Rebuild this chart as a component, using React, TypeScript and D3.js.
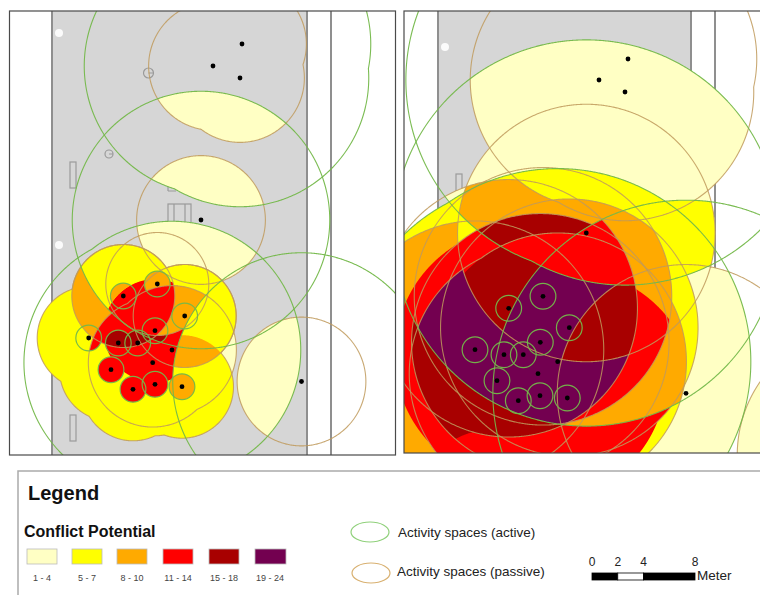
import React from "react";
import * as d3 from "d3";

// Person locations (map units = reference pixels)
const leftTrio = [[242, 44], [213, 66], [240, 78]];
const leftSoloA = [[201, 220]];
const leftSoloB = [[301.5, 381.5]];
const leftPair = [[172, 350], [152.7, 362.7]];
const leftRingNames = ["a", "b", "c", "d", "e", "f", "g", "h", "i", "j", "k"];
const leftRings = [[88.7, 338], [123.3, 296], [157.3, 284], [184.7, 316], [155, 330.7], [118.3, 343], [137.7, 343], [111, 369.7], [133, 389.3], [155, 384.3], [182, 386.7]];

const rightTrio = [[628, 59], [599, 80], [625, 92]];
const rightSoloA = [[586.3, 233]];
const rightSoloB = [[686, 393.3]];
const rightOffMap = [[866, 455]];
const rightPair = [[557.7, 361.7], [538, 373.7]];
const rightRingNames = ["a", "b", "c", "d", "e", "f", "g", "h", "i", "j", "k"];
const rightRings = [[508.7, 308.3], [543, 296.3], [569.3, 327.7], [540.3, 342.3], [475, 349.7], [504, 354.7], [523.3, 354.7], [497, 380.7], [518.3, 400.7], [540, 395.7], [567.3, 398]];
const trimPoint = [[490, 500]];

// Buffer radii in metres
const ringMetres = 1;
const leftRingPassive = 4;
const leftPassive = 5;
const leftActive = 10;
const rightPassive = 10;
const rightActive = 15;

// Legend
const classLabels = ["1 - 4", "5 - 7", "8 - 10", "11 - 14", "15 - 18", "19 - 24"];
const classColors = ["#ffffc4", "#ffff00", "#ffaa00", "#ff0000", "#a80000", "#730050"];
const scaleTicks = [0, 2, 4, 8];
const [LIGHT, YELLOW, ORANGE, RED, DARK, PURPLE] = classColors;

const GREEN = "#74b84a";
const TAN = "#c09a5c";

const metres = d3.scaleLinear().domain([0, 8]).range([0, 103]);

type Buffers = Record<string, { pts: number[][]; m: number }>;

function makeSpace(x0: number, y0: number, x1: number, y1: number, sets: Buffers) {
  const w = x1 - x0, h = y1 - y0;
  const cache = new Map<string, Float32Array>();
  const path = d3.geoPath();
  const base = (name: string) => {
    let f = cache.get(name);
    if (f) return f;
    f = new Float32Array(w * h);
    const s = sets[name];
    const r = metres(s.m);
    for (let j = 0; j < h; j++) for (let i = 0; i < w; i++) {
      let best = -1e9;
      for (const [cx, cy] of s.pts) {
        const v = r - Math.hypot(x0 + i + 0.5 - cx, y0 + j + 0.5 - cy);
        if (v > best) best = v;
      }
      f[j * w + i] = best;
    }
    cache.set(name, f);
    return f;
  };
  const union = (term: string) => {
    const names = term.split("+");
    if (names.length === 1) return base(names[0]);
    const out = new Float32Array(w * h);
    out.fill(-1e9);
    for (const n of names) {
      const f = base(n);
      for (let k = 0; k < out.length; k++) if (f[k] > out[k]) out[k] = f[k];
    }
    return out;
  };
  const region = (expr: string) => {
    const out = new Float32Array(w * h);
    out.fill(1e9);
    for (const t of expr.trim().split(/\s+/)) {
      const neg = t[0] === "!";
      const f = union(neg ? t.slice(1) : t);
      for (let k = 0; k < out.length; k++) {
        const v = neg ? -f[k] : f[k];
        if (v < out[k]) out[k] = v;
      }
    }
    const c = d3.contours().size([w, h]).thresholds([0])(Array.from(out) as any)[0];
    return path(c as any) || "";
  };
  return { region, x0, y0 };
}

const leftSets: Buffers = {
  P1: { pts: leftTrio, m: leftPassive }, P2: { pts: leftSoloA, m: leftPassive }, P3: { pts: leftSoloB, m: leftPassive },
  A1: { pts: leftTrio, m: leftActive }, A2: { pts: leftSoloA, m: leftActive }, A3: { pts: leftPair, m: leftActive }, A4: { pts: leftSoloB, m: leftActive },
  lm: { pts: [leftPair[0]], m: leftPassive }, ln: { pts: [leftPair[1]], m: leftPassive },
};
leftRingNames.forEach((n, i) => {
  leftSets["l" + n] = { pts: [leftRings[i]], m: leftRingPassive };
  leftSets["r" + n] = { pts: [leftRings[i]], m: ringMetres };
});
const rightSets: Buffers = {
  P1: { pts: rightTrio, m: rightPassive }, P2: { pts: rightSoloA, m: rightPassive }, P3: { pts: rightSoloB, m: rightPassive }, PX: { pts: rightOffMap, m: rightPassive },
  AG1: { pts: rightTrio, m: rightActive }, AG2: { pts: rightSoloA, m: rightActive }, AG3: { pts: rightSoloB, m: rightActive }, AG4: { pts: rightPair, m: rightActive },
  Pm: { pts: [rightPair[0]], m: rightPassive }, Pn: { pts: [rightPair[1]], m: rightPassive },
  Trim: { pts: trimPoint, m: 5.44 },
};
rightRingNames.forEach((n, i) => {
  rightSets["P" + n] = { pts: [rightRings[i]], m: rightPassive };
});

const LY = "la+lb+ld+le+lf+lg+lh+li+lj+lk";
const leftLayers: [string, string][] = [
  [LIGHT, "P1 A2"], [LIGHT, "P2 A1"], [LIGHT, "P2 A3"], [LIGHT, "P3 A3"], [LIGHT, "lm+ln A2+A4"],
  [YELLOW, LY + " A3"],
  [ORANGE, "lb !A2"],
  [RED, "A2 lb le"], [RED, "lm+ln lb+le !A4"], [RED, "ln ra"], [RED, "rh+ri+rj"],
  [DARK, "lb rf+rg"], [DARK, "re !lc lf A2"],
  [ORANGE, "lc lm !lb !A4"], [ORANGE, "A4 ld lk"], [ORANGE, "rk"], [ORANGE, "rc !lm"], [ORANGE, "rb !le"], [ORANGE, "rd !A4"],
];
const leftTan = ["P1", "P2", "P3", "lm+ln", LY, "lb", "lc", "ld"];
const leftGreen = ["A1", "A2", "A3", "A4"];

const Yb = "Pa+Pb+Pc+Pd+Pe+Pf+Pg+Ph+Pi+Pm+Pn";
const PR = "Pa+Pb+Pc+Pd+Pe+Pf+Pg+Ph+Pi+Pj+Pk";
const Q = "Pd+Pg+Pn";
const rightLayers: [string, string][] = [
  [LIGHT, "P1 AG2"], [LIGHT, "P2 AG1"], [LIGHT, "P2 AG4"], [LIGHT, "P3 AG4"], [LIGHT, "PX AG3"], [LIGHT, PR + " AG1"], [LIGHT, "P2 AG3"],
  [YELLOW, "P1 AG4"], [YELLOW, Yb + " AG4"], [YELLOW, "P2 AG3 AG1"],
  [ORANGE, "Pe !AG1 !P2"], [ORANGE, "P2 AG1 Pb Pc"], [ORANGE, "P2 AG1 Pa !P1"], [ORANGE, "P3 AG2 Pb+Pm"],
  [RED, Q + " !AG1 !P3"], [RED, "Pb Pk !AG1 P3"], [RED, "Pn+Pc !AG2"], [RED, "Pa AG1 AG3+Pm"],
  [DARK, Q + " AG1 !AG3 !Pm"], [DARK, "P2 Pm !AG1 !AG3"], [DARK, "P2 P3 Pa !AG1"], [DARK, "Pa Pd !AG2"], [DARK, "Pd !AG2 !AG3 !Trim"],
  [PURPLE, "Pa Pn AG2 !P2"], [PURPLE, "P2 AG3 !AG1 Pa !P3"],
];
const rightTan = ["P1", "P2", "P3", "PX", "Pa", "Pb", "Pc", "Pd", "Pe", "Pm+Pn"];
const rightGreen = ["AG1", "AG2", "AG3", "AG4"];

function Street({ gx0, gx1, line, top, bottom }: any) {
  return (
    <g>
      <rect x={gx0} y={top} width={gx1 - gx0} height={bottom - top} fill="#d6d6d6" stroke="#8f8f8f" strokeWidth={2} />
      <line x1={line} x2={line} y1={top} y2={bottom} stroke="#8f8f8f" strokeWidth={2} />
    </g>
  );
}

function Panel({ id, frame, space, layers, tan, green, rings, dots, children }: any) {
  const [x, y, w, h] = frame;
  return (
    <g>
      <clipPath id={id}><rect x={x} y={y} width={w} height={h} /></clipPath>
      <rect x={x} y={y} width={w} height={h} fill="#fff" />
      <g clipPath={`url(#${id})`}>
        {children}
        <g transform={`translate(${space.x0},${space.y0})`}>
          {layers.map(([fill, e]: [string, string], i: number) => <path key={i} d={space.region(e)} fill={fill} />)}
          {tan.map((e: string, i: number) => <path key={i} d={space.region(e)} fill="none" stroke={TAN} strokeOpacity={0.85} strokeWidth={1.1} />)}
          {green.map((e: string, i: number) => <path key={i} d={space.region(e)} fill="none" stroke={GREEN} strokeOpacity={0.95} strokeWidth={1.1} />)}
        </g>
        {rings.map(([cx, cy]: number[], i: number) => (
          <circle key={i} cx={cx} cy={cy} r={metres(ringMetres)} fill="none" stroke={GREEN} strokeOpacity={0.95} strokeWidth={1.2} />
        ))}
        {dots.map(([cx, cy]: number[], i: number) => <circle key={i} cx={cx} cy={cy} r={2.4} fill="#000" />)}
      </g>
      <rect x={x} y={y} width={w} height={h} fill="none" stroke="#4a4a4a" strokeWidth={1.2} />
    </g>
  );
}

const FONT = "'Liberation Sans', Arial, sans-serif";

export default function App() {
  const leftSpace = makeSpace(2, 4, 402, 462, leftSets);
  const rightSpace = makeSpace(397, 4, 767, 460, rightSets);
  const barX = d3.scaleLinear().domain([0, 8]).range([592, 695]);
  const swatchX = [27, 72, 117, 163, 209, 255];
  const labelX = [42, 87, 132, 178, 224, 270];
  const barSegs = [[0, 2, "#000"], [2, 4, "#fff"], [4, 8, "#000"]] as [number, number, string][];
  return (
    <svg width={760} height={595} style={{ position: "absolute", left: 0, top: 0, background: "#fff" }} fontFamily={FONT}>
      <Panel id="pl" frame={[9.5, 11, 386, 444]} space={leftSpace} layers={leftLayers} tan={leftTan} green={leftGreen}
        rings={leftRings} dots={[...leftTrio, ...leftSoloA, ...leftSoloB, ...leftPair, ...leftRings]}>
        <Street gx0={52} gx1={307} line={331} top={5} bottom={462} />
        <g fill="none" stroke="#9a9a9a" strokeWidth={1.2}>
          <rect x={70} y={162} width={6} height={26} />
          <rect x={70} y={415} width={6} height={26} />
          <rect x={168} y={204} width={23} height={20} />
          <path d="M174,204V224M185,204V224M168,191V177M168,191H176" />
          <circle cx={148.5} cy={73} r={5} />
          <circle cx={109} cy={154} r={4} />
          <path d="M148.5,73H153M109,154H113" />
        </g>
        <circle cx={59} cy={33} r={4} fill="#fff" opacity={0.9} />
        <circle cx={59} cy={245} r={4} fill="#fff" opacity={0.9} />
      </Panel>
      <Panel id="pr" frame={[404, 11, 366, 442]} space={rightSpace} layers={rightLayers} tan={rightTan} green={rightGreen}
        rings={rightRings} dots={[...rightTrio, ...rightSoloA, ...rightSoloB, ...rightPair, ...rightRings]}>
        <Street gx0={438} gx1={691} line={715} top={5} bottom={460} />
        <rect x={456} y={174} width={6} height={30} fill="none" stroke="#9a9a9a" strokeWidth={1.2} />
        <circle cx={445} cy={47} r={4} fill="#fff" opacity={0.9} />
      </Panel>

      <rect x={18} y={471} width={800} height={200} fill="#fff" stroke="#aaa" strokeWidth={1.5} />
      <text x={28} y={500} fontSize={20} fontWeight="bold" fill="#111">Legend</text>
      <text x={24} y={537} fontSize={16} fontWeight="bold" fill="#111">Conflict Potential</text>
      {classColors.map((c, i) => (
        <g key={c}>
          <rect x={swatchX[i]} y={549} width={i === 5 ? 31 : 30} height={15} fill={c} stroke="#bbb" strokeWidth={0.8} />
          <text x={labelX[i]} y={581} fontSize={9} textAnchor="middle" fill="#444">{classLabels[i]}</text>
        </g>
      ))}
      <ellipse cx={370} cy={532} rx={19} ry={10} fill="#fff" stroke="#8fd07a" strokeWidth={1.2} />
      <text x={398} y={537} fontSize={13.5} fill="#222">Activity spaces (active)</text>
      <ellipse cx={371} cy={573} rx={19} ry={10} fill="#fff" stroke="#d8b070" strokeWidth={1.2} />
      <text x={397} y={576} fontSize={13.5} fill="#222">Activity spaces (passive)</text>
      {scaleTicks.map(t => <text key={t} x={barX(t)} y={566} fontSize={12} textAnchor="middle" fill="#222">{t}</text>)}
      {barSegs.map(([a, b, c]) => (
        <rect key={a} x={barX(a)} y={573} width={barX(b) - barX(a)} height={7} fill={c} stroke="#000" strokeWidth={0.8} />
      ))}
      <text x={697} y={580} fontSize={13.5} fill="#222">Meter</text>
    </svg>
  );
}
